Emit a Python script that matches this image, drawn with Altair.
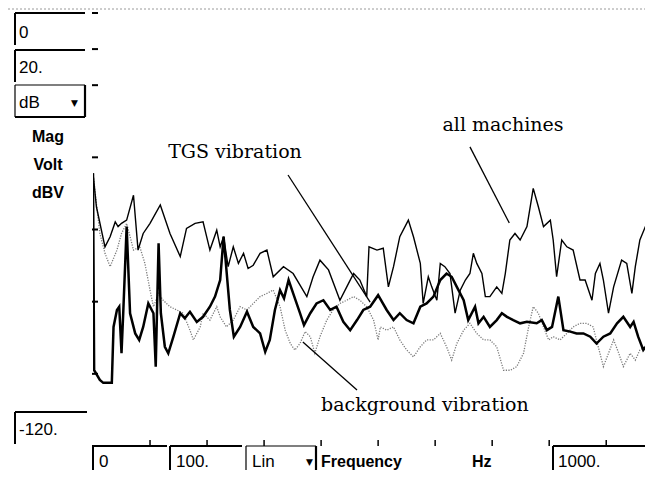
import altair as alt
import pandas as pd

# ---------------- data ----------------
# frequency in Hz, level in dBV
am_f = [0, 6, 21, 30, 39, 44, 50, 59, 71, 79, 88, 100, 118, 135, 153, 164, 179, 193, 205, 217,
        223, 229, 237, 246, 255, 264, 272, 281, 293, 305, 316, 334, 351, 375, 386, 398, 413, 433, 445, 457,
        468, 480, 484, 498, 509, 518, 527, 538, 553, 562, 574, 579, 588, 594, 603, 609, 617, 626, 635, 644,
        653, 661, 667, 673, 682, 688, 696, 708, 717, 723, 731, 740, 749, 761, 772, 781, 790, 802, 807, 813,
        822, 831, 842, 854, 863, 875, 881, 889, 895, 904, 913, 927, 936, 945, 951, 959, 971, 980]
am_db = [-44.4, -53.7, -64.8, -62.0, -57.9, -59.2, -58.3, -57.4, -50.5, -65.7,
         -61.1, -58.3, -53.2, -61.1, -67.5, -59.7, -58.3, -57.9, -65.7, -60.2,
         -64.8, -62.0, -70.3, -64.8, -69.4, -66.6, -70.8, -69.9, -66.6, -65.7,
         -73.1, -70.3, -72.2, -78.6, -73.1, -68.5, -71.2, -79.6, -75.9, -72.2,
         -74.0, -78.6, -64.8, -65.7, -65.2, -75.9, -70.3, -62.0, -57.4, -62.0,
         -69.4, -80.5, -73.1, -75.9, -79.6, -69.4, -70.3, -72.2, -83.2, -76.8,
         -74.0, -72.2, -66.6, -69.4, -72.2, -78.6, -78.6, -75.9, -77.7, -72.2,
         -62.9, -61.1, -62.9, -59.2, -48.6, -53.7, -59.2, -57.4, -62.9, -73.1,
         -62.9, -64.8, -65.7, -74.0, -74.0, -79.6, -72.2, -69.4, -74.0, -83.2,
         -75.9, -68.5, -69.4, -77.7, -70.3, -62.9, -58.3, -60.2]

tgs_f = [0, 1, 2, 12, 18, 33, 36, 42, 46, 50, 53, 59, 65, 74, 81, 88, 97, 106, 110, 115,
         119, 126, 132, 141, 153, 161, 170, 182, 193, 205, 214, 223, 229, 234, 240, 247, 258, 270, 281, 293,
         302, 310, 319, 328, 335, 343, 351, 363, 370, 381, 392, 404, 416, 427, 439, 451, 463, 474, 486, 500,
         515, 527, 538, 550, 562, 574, 585, 597, 609, 620, 629, 638, 650, 658, 670, 676, 685, 696, 708, 717,
         726, 737, 749, 761, 778, 787, 796, 805, 816, 825, 837, 848, 860, 872, 883, 895, 907, 919, 930, 942,
         948, 956, 965, 974, 980]
tgs_db = [-44.4, -72.2, -99.0, -101.7, -102.5, -102.5, -87.0, -82.3, -81.4, -94.3,
          -83.2, -59.2, -83.2, -88.8, -90.6, -87.0, -80.5, -83.2, -98.0, -63.8,
          -83.2, -92.5, -94.3, -89.7, -83.2, -84.6, -82.8, -85.6, -84.2, -81.4,
          -78.6, -74.0, -62.0, -71.2, -82.3, -89.7, -87.0, -82.8, -87.0, -88.8,
          -93.9, -90.6, -82.3, -76.8, -79.1, -74.0, -77.7, -83.2, -86.5, -83.2,
          -80.5, -79.6, -82.3, -81.4, -85.6, -87.9, -85.1, -82.3, -81.4, -78.2,
          -82.3, -85.1, -83.2, -85.1, -86.0, -81.4, -80.5, -78.6, -74.0, -72.2,
          -73.1, -75.9, -79.6, -85.1, -81.4, -86.0, -84.2, -87.0, -85.1, -83.2,
          -84.2, -85.1, -86.0, -85.6, -86.0, -85.1, -87.9, -87.0, -78.6, -87.9,
          -88.3, -88.8, -88.8, -89.7, -91.6, -89.7, -88.8, -86.0, -84.2, -87.0,
          -85.6, -89.7, -93.4, -91.6, -89.7]

bg_f = [0, 4, 12, 21, 30, 42, 50, 59, 71, 82, 91, 100, 106, 115, 123, 135, 147, 158, 170, 176,
        188, 193, 205, 217, 223, 234, 246, 258, 270, 281, 293, 305, 316, 328, 337, 346, 354, 363, 372, 381,
        389, 398, 410, 421, 433, 445, 457, 468, 480, 492, 500, 504, 515, 527, 538, 550, 562, 574, 585, 597,
        609, 620, 629, 638, 650, 661, 673, 685, 696, 708, 720, 732, 743, 755, 764, 772, 781, 790, 799, 807,
        819, 831, 842, 854, 866, 877, 886, 895, 904, 913, 922, 930, 942, 951, 959, 968, 974, 980]
bg_db = [-44.4, -50.0, -61.1, -66.6, -70.3, -65.7, -61.1, -58.3, -65.7, -64.8,
         -69.4, -76.8, -81.4, -77.7, -79.6, -81.4, -82.3, -83.2, -87.9, -90.6,
         -87.0, -83.2, -85.1, -81.4, -84.2, -87.0, -85.1, -81.4, -82.3, -80.5,
         -78.6, -77.7, -76.8, -81.4, -87.9, -91.6, -93.4, -91.6, -88.3, -89.7,
         -94.3, -89.7, -85.1, -82.3, -80.5, -79.6, -78.6, -79.6, -81.4, -85.1,
         -90.6, -87.0, -87.9, -87.0, -90.6, -93.4, -95.3, -92.5, -90.6, -90.6,
         -88.8, -92.5, -96.2, -91.6, -87.9, -86.0, -88.8, -90.6, -90.6, -92.5,
         -99.0, -99.0, -98.0, -94.3, -87.0, -81.4, -83.2, -87.0, -90.6, -89.7,
         -90.6, -88.8, -87.0, -86.0, -86.0, -87.0, -92.5, -98.0, -94.3, -90.6,
         -94.3, -98.0, -94.3, -96.2, -93.4, -92.5, -90.6, -85.1]

# annotations: label, text position (Hz, dB), leader line start/end (Hz, dB)
ann_labels = ["TGS vibration", "all machines", "background vibration"]
ann_f = [249, 719, 582]
ann_db = [-38.5, -31.0, -108.7]
lead_f1 = [342, 661, 368]
lead_f2 = [486, 730, 463]
lead_db1 = [-44.9, -37.1, -91.2]
lead_db2 = [-80.1, -58.2, -104.5]

# axis ticks
y_ticks = [0, -10, -20, -40, -60, -80, -100, -120]
x_ticks = [100, 200, 300, 400, 500, 600, 700, 800, 900]

# front-panel texts
y_max_label, y_div_label, y_unit_label, y_min_label = "0", "20.", "dB", "-120."
y_mode_labels = ["Mag", "Volt", "dBV"]
x_min_label, x_div_label, x_mode_label, x_name_label, x_unit_label, x_max_label = \
    "0", "100.", "Lin", "Frequency", "Hz", "1000."

# ---------------- chart ----------------
W, H = 552, 433
xs = alt.Scale(domain=[0, 968], nice=False, zero=False)
ys = alt.Scale(domain=[-120, 0], nice=False, zero=False)
one = pd.DataFrame({"k": [0]})


def series(f, db, **style):
    df = pd.DataFrame({"f": f, "db": db})
    return alt.Chart(df).mark_line(clip=True, **style).encode(
        x=alt.X("f:Q", scale=xs, axis=None),
        y=alt.Y("db:Q", scale=ys, axis=None),
    )


bg = series(bg_f, bg_db, color="#7a7a7a", strokeWidth=1.3, strokeDash=[1.2, 1.4])
am = series(am_f, am_db, color="black", strokeWidth=1.4)
tgs = series(tgs_f, tgs_db, color="black", strokeWidth=2.5)

ann_df = pd.DataFrame({"label": ann_labels, "f": ann_f, "db": ann_db})
ann = alt.Chart(ann_df).mark_text(font="DejaVu Serif", fontSize=19, color="black",
                                  align="center", baseline="middle").encode(
    x=alt.X("f:Q", scale=xs, axis=None), y=alt.Y("db:Q", scale=ys, axis=None), text="label:N")

lead_df = pd.DataFrame({"f1": lead_f1, "f2": lead_f2, "d1": lead_db1, "d2": lead_db2})
lead = alt.Chart(lead_df).mark_rule(color="black", strokeWidth=1.3).encode(
    x=alt.X("f1:Q", scale=xs, axis=None), x2="f2:Q",
    y=alt.Y("d1:Q", scale=ys, axis=None), y2="d2:Q")

yt = alt.Chart(pd.DataFrame({"db": y_ticks})).mark_rule(color="black", strokeWidth=2).encode(
    y=alt.Y("db:Q", scale=ys, axis=None), x=alt.value(-1), x2=alt.value(5))
xt = alt.Chart(pd.DataFrame({"f": x_ticks})).mark_rule(color="black", strokeWidth=1.5).encode(
    x=alt.X("f:Q", scale=xs, axis=None), y=alt.value(H - 6), y2=alt.value(H))

layers = [bg, am, tgs, lead, ann, yt, xt]


def rule(x1, x2, y1, y2, w=2, color="black", dash=None):
    kw = dict(color=color, strokeWidth=w)
    if dash:
        kw["strokeDash"] = dash
    return alt.Chart(one).mark_rule(**kw).encode(
        x=alt.value(x1), x2=alt.value(x2), y=alt.value(y1), y2=alt.value(y2))


def text(label, x, y, size=17, bold=False, align="left", font="Liberation Sans"):
    return alt.Chart(one).mark_text(text=label, font=font, fontSize=size,
                                    fontWeight="bold" if bold else "normal",
                                    align=align, baseline="middle", color="black").encode(
        x=alt.value(x), y=alt.value(y))


def box(x1, x2, y1, y2):
    return [rule(x1, x2, y1, y1), rule(x1, x1, y1, y2)]


def ring(x1, x2, y1, y2):
    return [rule(x1, x2, y1, y1, 1.2), rule(x1, x1, y1, y2, 1.2),
            rule(x2, x2, y1, y2, 2.2), rule(x1, x2, y2, y2, 2.2)]


# top dotted border of the panel
layers.append(rule(-85, W, -4, -4, 1, "#9a9a9a", [2, 2]))

# left panel
layers += box(-78, -8, 0, 32)
layers.append(text(y_max_label, -74, 20))
layers += box(-78, -8, 37, 69)
layers.append(text(y_div_label, -74, 55))
layers += ring(-78, -8, 72, 104)
layers.append(text(y_unit_label, -74, 90))
layers.append(text("▼", -22, 90, size=9, font="DejaVu Sans"))
for lab, yy in zip(y_mode_labels, [124, 152, 180]):
    layers.append(text(lab, -45, yy, size=16, bold=True, align="center"))
layers += box(-78, -6, 399, 431)
layers.append(text(y_min_label, -74, 417))

# bottom panel
layers += box(0, 74, H, H + 30)
layers.append(text(x_min_label, 6, 449))
layers += box(77, 149, H, H + 30)
layers.append(text(x_div_label, 83, 449))
layers += ring(153, 223, H, H + 40)
layers.append(text(x_mode_label, 159, 449))
layers.append(text("▼", 213, 449, size=9, font="DejaVu Sans"))
layers.append(text(x_name_label, 228, 449, size=16, bold=True))
layers.append(text(x_unit_label, 379, 449, size=16, bold=True))
layers += box(460, 560, H, H + 30)
layers.append(text(x_max_label, 465, 449))

chart = alt.layer(*layers).properties(
    width=W, height=H,
    autosize=alt.AutoSizeParams(type="none"),
    padding={"left": 85, "top": 5, "right": 0, "bottom": 24},
    background="white",
).configure_view(stroke=None)

chart.save("out.html", embed_options={"renderer": "svg", "actions": False})
